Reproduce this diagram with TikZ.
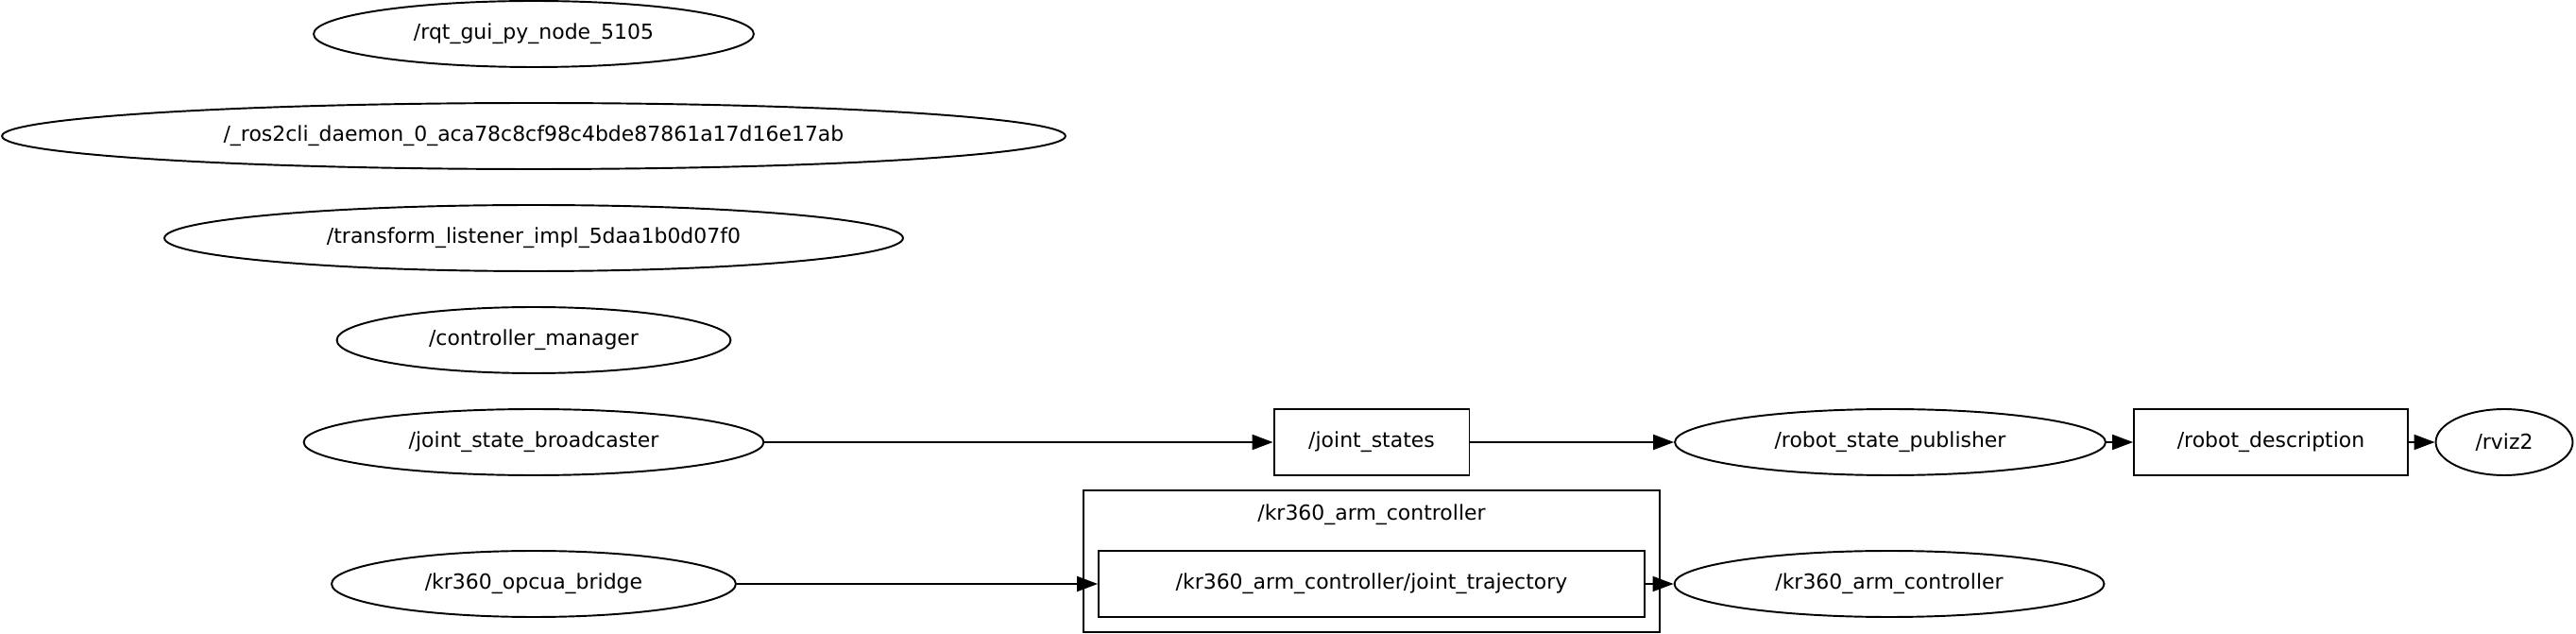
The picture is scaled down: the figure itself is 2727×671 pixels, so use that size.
\documentclass[tikz,border=0pt]{standalone}
\usepackage{fontspec}
\setmainfont{DejaVu Sans}
\usepackage{tikz}
\usetikzlibrary{shapes.geometric,arrows.meta,positioning}

\begin{document}
\begin{tikzpicture}[
  x=0.02cm, y=-0.02cm,
  rosnode/.style={draw=black, ellipse, minimum height=1.4cm, inner sep=0pt, line width=1.1pt, font=\fontsize{12.5}{15}\selectfont},
  topic/.style={draw=black, rectangle, minimum height=1.4cm, inner sep=0pt, line width=1.1pt, font=\fontsize{12.5}{15}\selectfont},
  cluster/.style={draw=black, rectangle, minimum width=12.2cm, minimum height=3cm, inner sep=0pt, line width=1.1pt},
  arrow/.style={-{Triangle[length=0.44cm, width=0.32cm]}, line width=1.1pt, color=black}
]
\useasboundingbox (0,0) rectangle (2727,671);

% nodes without connections
\node[rosnode, minimum width=9.32cm] (rqt) at (565,36) {/rqt\_gui\_py\_node\_5105};
\node[rosnode, minimum width=22.52cm] (daemon) at (565,144) {/\_ros2cli\_daemon\_0\_aca78c8cf98c4bde87861a17d16e17ab};
\node[rosnode, minimum width=15.64cm] (tflisten) at (565,252) {/transform\_listener\_impl\_5daa1b0d07f0};
\node[rosnode, minimum width=8.34cm] (ctrlmgr) at (565,360) {/controller\_manager};

% joint state chain
\node[rosnode, minimum width=9.74cm] (jsb) at (565,468) {/joint\_state\_broadcaster};
\node[topic, minimum width=4.14cm] (jstates) at (1452,468) {/joint\_states};
\node[rosnode, minimum width=9.12cm] (rsp) at (2001,468) {/robot\_state\_publisher};
\node[topic, minimum width=5.8cm] (robdesc) at (2404,468) {/robot\_description};
\node[rosnode, minimum width=2.9cm] (rviz) at (2651,468) {/rviz2};

% arm controller
\node[cluster] (armgrp) at (1452,594) {};
\node[font=\fontsize{12.5}{15}\selectfont] (grplabel) at (1452,545) {/kr360\_arm\_controller};
\node[rosnode, minimum width=8.56cm] (opcua) at (565,618) {/kr360\_opcua\_bridge};
\node[topic, minimum width=11.56cm] (traj) at (1452,618) {/kr360\_arm\_controller/joint\_trajectory};
\node[rosnode, minimum width=9.1cm] (armctrl) at (2000,618) {/kr360\_arm\_controller};

\draw[arrow] (jsb) -- (jstates);
\draw[arrow] (jstates) -- (rsp);
\draw[arrow] (rsp) -- (robdesc);
\draw[arrow] (robdesc) -- (rviz);
\draw[arrow] (opcua) -- (traj);
\draw[arrow] (traj) -- (armctrl);
\end{tikzpicture}
\end{document}
